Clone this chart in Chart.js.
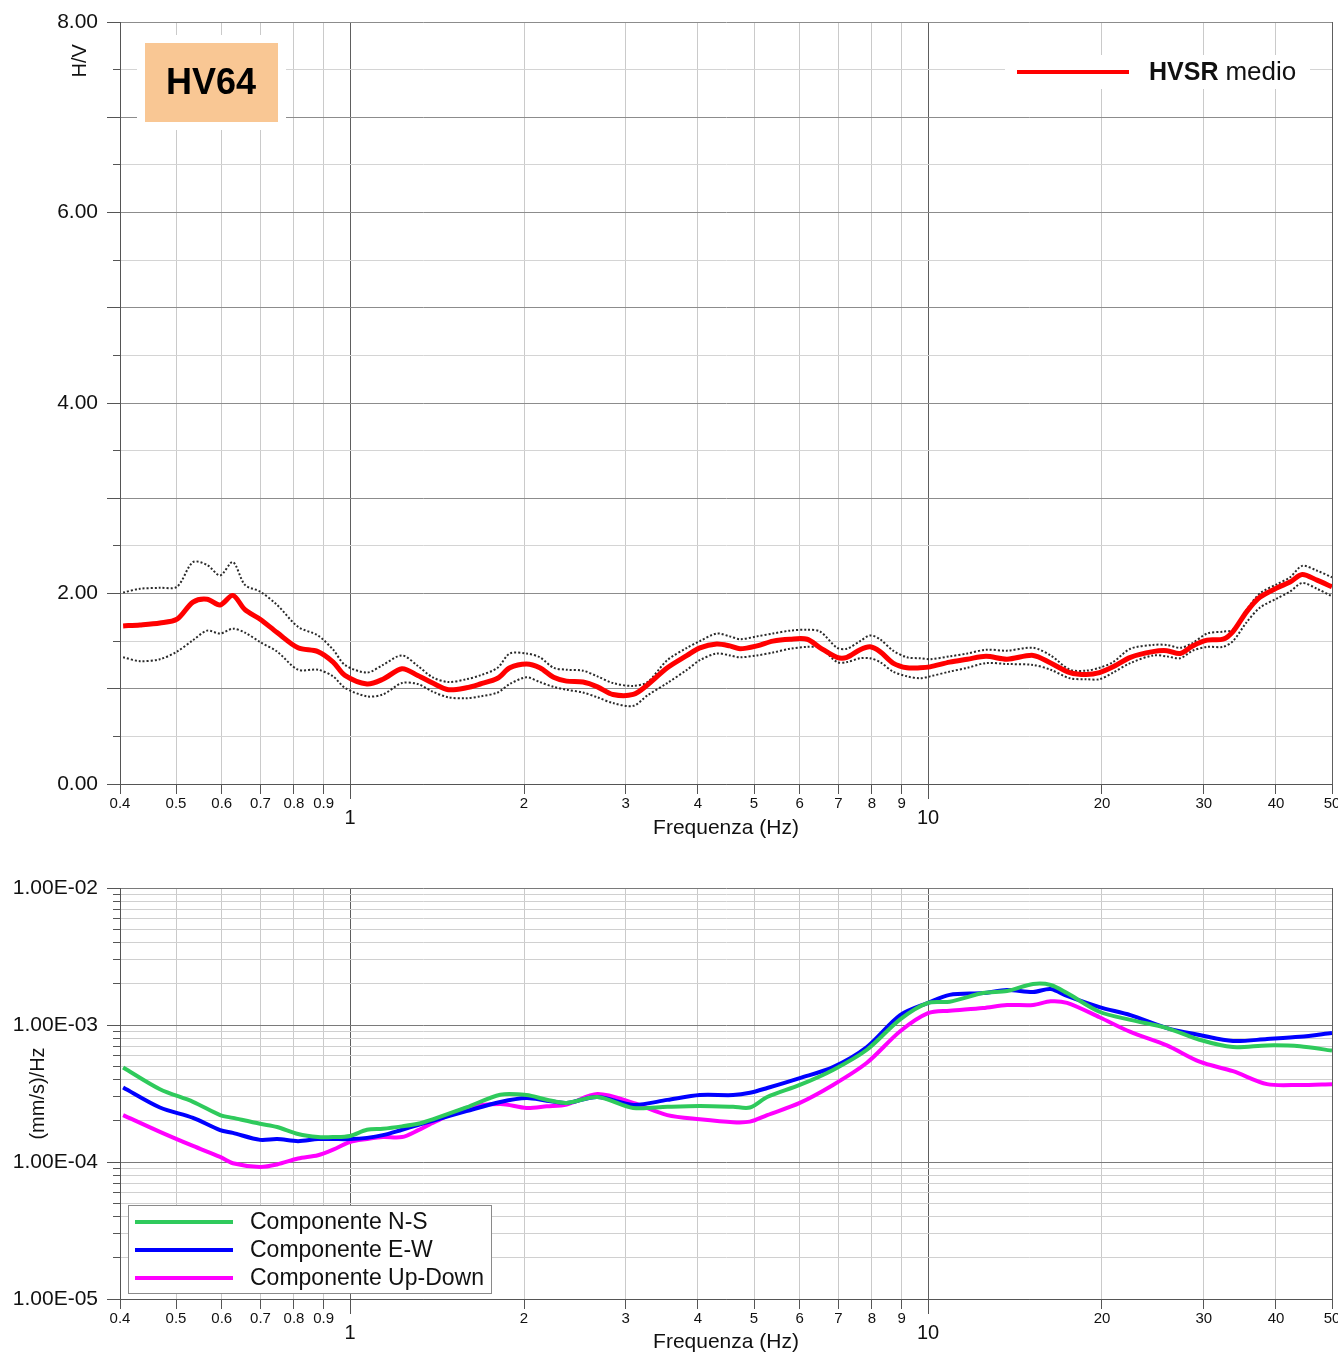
<!DOCTYPE html>
<html lang="it">
<head>
<meta charset="utf-8">
<title>HV64</title>
<script src="https://cdn.jsdelivr.net/npm/chart.js@4.4.8/dist/chart.umd.min.js"></script>
<style>
  html, body { margin: 0; padding: 0; background: #fff; overflow: hidden; }
  #hvChart { position: absolute; left: 0; top: 0; }
  #specChart { position: absolute; left: 0; top: 856px; }
</style>
</head>
<body>
<canvas id="hvChart" width="1360" height="850"></canvas>
<canvas id="specChart" width="1360" height="500"></canvas>
<script>
// --- dati ---
const stationName = 'HV64';

// curva H/V (frequenza in Hz)
const hvFreq = [0.405,0.433,0.469,0.502,0.535,0.566,0.596,0.627,0.658,0.699,
  0.748,0.813,0.880,0.935,0.980,1.07,1.14,1.23,1.31,1.39,
  1.48,1.59,1.68,1.80,1.89,2.02,2.13,2.25,2.37,2.53,
  2.68,2.85,3.09,3.27,3.54,3.83,4.03,4.31,4.54,4.73,
  5.06,5.39,5.77,6.18,6.51,6.96,7.24,7.63,7.94,8.26,
  8.70,9.20,9.69,10.08,10.9,11.7,12.6,13.7,15.2,16.3,
  17.6,18.8,19.8,20.9,22.4,24.5,25.9,27.3,28.7,30.4,
  32.4,33.7,35.6,37.5,40.2,42.3,44.4,47.1,50.0];
const hvMean = [1.66,1.67,1.69,1.73,1.91,1.94,1.88,1.98,1.83,1.73,
  1.59,1.43,1.39,1.28,1.14,1.05,1.10,1.21,1.14,1.06,
  0.99,1.01,1.05,1.11,1.22,1.26,1.22,1.12,1.08,1.07,
  1.02,0.94,0.94,1.04,1.22,1.35,1.43,1.47,1.45,1.42,
  1.45,1.50,1.52,1.52,1.43,1.33,1.33,1.41,1.44,1.39,
  1.27,1.22,1.22,1.23,1.28,1.31,1.34,1.31,1.35,1.27,
  1.17,1.15,1.17,1.23,1.33,1.39,1.40,1.37,1.45,1.51,
  1.52,1.60,1.81,1.96,2.06,2.12,2.20,2.14,2.07];
const hvUpper = [2.01,2.05,2.06,2.07,2.33,2.30,2.19,2.33,2.09,2.02,
  1.88,1.65,1.56,1.41,1.25,1.17,1.25,1.35,1.24,1.12,
  1.07,1.10,1.14,1.22,1.37,1.37,1.33,1.22,1.20,1.19,
  1.13,1.06,1.03,1.07,1.30,1.43,1.50,1.58,1.55,1.52,
  1.55,1.58,1.61,1.62,1.60,1.43,1.42,1.50,1.56,1.52,
  1.40,1.33,1.32,1.31,1.34,1.37,1.41,1.40,1.43,1.35,
  1.20,1.19,1.22,1.28,1.42,1.46,1.46,1.43,1.48,1.58,
  1.60,1.62,1.83,2.00,2.10,2.17,2.29,2.24,2.17];
const hvLower = [1.33,1.29,1.31,1.39,1.51,1.61,1.58,1.63,1.59,1.49,
  1.39,1.20,1.20,1.13,1.01,0.92,0.94,1.06,1.05,0.97,
  0.91,0.90,0.92,0.96,1.05,1.12,1.07,1.02,0.99,0.96,
  0.91,0.85,0.82,0.93,1.06,1.20,1.30,1.37,1.35,1.33,
  1.35,1.38,1.42,1.44,1.43,1.28,1.28,1.32,1.32,1.28,
  1.18,1.13,1.11,1.13,1.18,1.22,1.27,1.26,1.25,1.20,
  1.11,1.10,1.10,1.17,1.27,1.35,1.34,1.32,1.40,1.44,
  1.44,1.50,1.70,1.85,1.95,2.02,2.11,2.05,1.97];

// spettri delle componenti, (mm/s)/Hz
const specFreq = [0.405,0.469,0.535,0.596,0.627,0.699,0.748,0.813,0.880,0.935,
  1.00,1.07,1.14,1.23,1.31,1.39,1.59,1.82,2.02,2.19,
  2.37,2.68,3.09,3.54,4.03,4.60,4.92,5.27,6.00,6.85,
  7.84,8.95,10.0,10.9,12.45,13.7,15.2,16.3,17.4,19.8,
  22.4,25.9,29.5,33.7,38.6,44.0,50.0];
const specNS = [4.9e-4,3.4e-4,2.75e-4,2.2e-4,2.1e-4,1.9e-4,1.8e-4,1.6e-4,1.52e-4,1.52e-4,
  1.55e-4,1.72e-4,1.75e-4,1.82e-4,1.9e-4,2.05e-4,2.5e-4,3.1e-4,3.08e-4,2.85e-4,
  2.7e-4,2.98e-4,2.48e-4,2.53e-4,2.56e-4,2.53e-4,2.5e-4,2.98e-4,3.65e-4,4.7e-4,
  6.6e-4,1.1e-3,1.45e-3,1.48e-3,1.71e-3,1.77e-3,1.99e-3,1.96e-3,1.71e-3,1.25e-3,
  1.09e-3,9.5e-4,7.8e-4,6.9e-4,7.1e-4,7.0e-4,6.5e-4];
const specEW = [3.5e-4,2.5e-4,2.1e-4,1.71e-4,1.63e-4,1.45e-4,1.47e-4,1.42e-4,1.47e-4,1.47e-4,
  1.47e-4,1.5e-4,1.57e-4,1.72e-4,1.86e-4,2.0e-4,2.35e-4,2.74e-4,2.93e-4,2.8e-4,
  2.7e-4,2.98e-4,2.61e-4,2.84e-4,3.08e-4,3.08e-4,3.2e-4,3.47e-4,4.1e-4,4.93e-4,
  6.9e-4,1.18e-3,1.45e-3,1.66e-3,1.71e-3,1.8e-3,1.74e-3,1.83e-3,1.63e-3,1.35e-3,
  1.18e-3,9.5e-4,8.45e-4,7.64e-4,7.9e-4,8.2e-4,8.75e-4];
const specUD = [2.2e-4,1.66e-4,1.31e-4,1.09e-4,9.8e-5,9.2e-5,9.6e-5,1.06e-4,1.12e-4,1.23e-4,
  1.40e-4,1.47e-4,1.52e-4,1.52e-4,1.7e-4,1.93e-4,2.48e-4,2.65e-4,2.48e-4,2.55e-4,
  2.63e-4,3.13e-4,2.7e-4,2.2e-4,2.05e-4,1.95e-4,1.97e-4,2.2e-4,2.7e-4,3.65e-4,
  5.3e-4,9.0e-4,1.22e-3,1.27e-3,1.33e-3,1.40e-3,1.40e-3,1.49e-3,1.45e-3,1.14e-3,
  8.9e-4,7.1e-4,5.4e-4,4.6e-4,3.7e-4,3.65e-4,3.7e-4];

// assi
const freqTicks = [0.4,0.5,0.6,0.7,0.8,0.9,1,2,3,4,5,6,7,8,9,10,20,30,40,50];
const freqLabels = ['0.4','0.5','0.6','0.7','0.8','0.9','1','2','3','4','5','6','7','8','9','10','20','30','40','50'];
const freqMajor = [1, 10];
const freqEdges = [0.4, 50];
const hvTicks = [0,0.5,1,1.5,2,2.5,3,3.5,4,4.5,5,5.5,6,6.5,7,7.5,8];
const hvMajor = [0,1,2,3,4,5,6,7,8];
const hvLabelValues = [0,2,4,6,8];
const hvLabelText = ['0.00','2.00','4.00','6.00','8.00'];
const specTicks = [1e-5,2e-5,3e-5,4e-5,5e-5,6e-5,7e-5,8e-5,9e-5,
  1e-4,2e-4,3e-4,4e-4,5e-4,6e-4,7e-4,8e-4,9e-4,
  1e-3,2e-3,3e-3,4e-3,5e-3,6e-3,7e-3,8e-3,9e-3,1e-2];
const specLabelValues = [1e-5,1e-4,1e-3,1e-2];
const specLabelText = ['1.00E-05','1.00E-04','1.00E-03','1.00E-02'];

const FONT = "'Liberation Sans', Arial, Helvetica, sans-serif";
Chart.defaults.font.family = FONT;
Chart.defaults.color = '#111';

function near(a, b) { return Math.abs(a - b) <= Math.abs(b) * 1e-6 + 1e-12; }
function idxOf(list, v) { return list.findIndex(t => near(v, t)); }
function tickVal(c) { return c && c.tick ? c.tick.value : NaN; }
function points(xs, ys) { return xs.map((x, i) => ({x: x, y: ys[i]})); }

// tacche lunghe sui valori principali
const extraTicks = {
  id: 'extraTicks',
  afterDraw(chart, args, opts) {
    const ctx = chart.ctx, xs = chart.scales.x, ys = chart.scales.y;
    ctx.save();
    ctx.strokeStyle = '#555';
    ctx.lineWidth = 1;
    ctx.beginPath();
    opts.xValues.forEach(v => {
      const px = Math.round(xs.getPixelForValue(v) - 0.5) + 0.5;
      ctx.moveTo(px, xs.top);
      ctx.lineTo(px, xs.top + opts.xLength);
    });
    opts.yValues.forEach(v => {
      const py = Math.round(ys.getPixelForValue(v) - 0.5) + 0.5;
      ctx.moveTo(ys.right - opts.yLength, py);
      ctx.lineTo(ys.right, py);
    });
    ctx.stroke();
    ctx.restore();
  }
};

// etichetta stazione e legenda del grafico H/V
const hvDecor = {
  id: 'hvDecor',
  afterDraw(chart) {
    const ctx = chart.ctx, ca = chart.chartArea;
    ctx.save();
    ctx.fillStyle = '#fff';
    ctx.fillRect(ca.left + 17, ca.top + 13, 149, 95);
    ctx.fillStyle = '#f9c794';
    ctx.fillRect(ca.left + 25, ca.top + 21, 133, 79);
    ctx.fillStyle = '#000';
    ctx.font = 'bold 36px ' + FONT;
    ctx.textAlign = 'center';
    ctx.textBaseline = 'middle';
    ctx.fillText(stationName, ca.left + 91, ca.top + 62);

    const ds = chart.data.datasets[0];
    ctx.fillStyle = '#fff';
    ctx.fillRect(1005, 55, 305, 34);
    ctx.strokeStyle = ds.borderColor;
    ctx.lineWidth = 4;
    ctx.beginPath();
    ctx.moveTo(1017, 72);
    ctx.lineTo(1129, 72);
    ctx.stroke();
    ctx.textAlign = 'left';
    ctx.fillStyle = '#111';
    const parts = ds.label.split(' ');
    ctx.font = 'bold 25px ' + FONT;
    ctx.fillText(parts[0], 1149, 73);
    const w = ctx.measureText(parts[0] + ' ').width;
    ctx.font = '26px ' + FONT;
    ctx.fillText(parts.slice(1).join(' '), 1149 + w, 73);
    ctx.restore();
  }
};

// legenda delle componenti
const specLegend = {
  id: 'specLegend',
  afterDraw(chart) {
    const ctx = chart.ctx, ca = chart.chartArea;
    const bx = ca.left + 8, by = ca.bottom - 94;
    ctx.save();
    ctx.fillStyle = '#fff';
    ctx.fillRect(bx, by, 364, 89);
    ctx.strokeStyle = '#8a8a8a';
    ctx.lineWidth = 1;
    ctx.strokeRect(bx + 0.5, by + 0.5, 363, 88);
    ctx.font = '23px ' + FONT;
    ctx.textBaseline = 'middle';
    ctx.textAlign = 'left';
    chart.data.datasets.forEach((ds, i) => {
      const yy = by + 17 + i * 28;
      ctx.strokeStyle = ds.borderColor;
      ctx.lineWidth = 4;
      ctx.beginPath();
      ctx.moveTo(bx + 7, yy);
      ctx.lineTo(bx + 105, yy);
      ctx.stroke();
      ctx.fillStyle = '#111';
      ctx.fillText(ds.label, bx + 122, yy + 1);
    });
    ctx.restore();
  }
};

function fixLeftAxis(s) {
  s.width = 120;
  s.paddingTop = 0;
  s.paddingBottom = 0;
}

function freqAxis(axisHeight, titlePad) {
  return {
    type: 'logarithmic',
    min: 0.4,
    max: 50,
    afterBuildTicks: s => { s.ticks = freqTicks.map(v => ({value: v})); },
    afterFit: s => { s.height = axisHeight; },
    ticks: {
      autoSkip: false,
      maxRotation: 0,
      minRotation: 0,
      padding: 1,
      color: '#111',
      font: c => idxOf(freqMajor, tickVal(c)) >= 0 ? {size: 20, lineHeight: 0.78} : {size: 15},
      callback: v => {
        const t = freqLabels[idxOf(freqTicks, v)];
        return idxOf(freqMajor, v) >= 0 ? ['', t] : t;
      }
    },
    grid: {
      color: c => (idxOf(freqMajor, tickVal(c)) >= 0 || idxOf(freqEdges, tickVal(c)) >= 0) ? '#5e5e5e' : '#cacaca',
      tickColor: '#555',
      tickLength: 10
    },
    border: { color: '#555' },
    title: {
      display: true,
      text: 'Frequenza (Hz)',
      color: '#111',
      font: {size: 21},
      padding: {top: 0, bottom: titlePad}
    }
  };
}

new Chart(document.getElementById('hvChart'), {
  type: 'line',
  data: {
    datasets: [
      { label: 'HVSR medio', data: points(hvFreq, hvMean), borderColor: '#ff0000', borderWidth: 5,
        pointRadius: 0, tension: 0.3 },
      { label: 'max', data: points(hvFreq, hvUpper), borderColor: '#2a2a2a', borderWidth: 2,
        borderDash: [2, 2], pointRadius: 0, tension: 0.3 },
      { label: 'min', data: points(hvFreq, hvLower), borderColor: '#2a2a2a', borderWidth: 2,
        borderDash: [2, 2], pointRadius: 0, tension: 0.3 }
    ]
  },
  plugins: [extraTicks, hvDecor],
  options: {
    responsive: false,
    animation: false,
    events: [],
    layout: { padding: {top: 22, right: 28, left: 0, bottom: 0} },
    plugins: {
      legend: { display: false },
      tooltip: { enabled: false },
      extraTicks: { xValues: freqMajor, xLength: 15, yValues: hvMajor, yLength: 13 }
    },
    scales: {
      x: freqAxis(66, 9),
      y: {
        min: 0,
        max: 8,
        afterBuildTicks: s => { s.ticks = hvTicks.map(v => ({value: v})); },
        afterFit: fixLeftAxis,
        ticks: {
          autoSkip: false,
          padding: 15,
          color: '#111',
          font: {size: 21},
          callback: v => { const i = idxOf(hvLabelValues, v); return i >= 0 ? hvLabelText[i] : ''; }
        },
        grid: {
          color: c => idxOf(hvMajor, tickVal(c)) >= 0 ? '#8c8c8c' : '#d4d4d4',
          tickColor: '#555',
          tickLength: 7
        },
        border: { color: '#555' },
        title: {
          display: true,
          text: 'H/V    ',
          align: 'end',
          color: '#111',
          font: {size: 20},
          padding: {top: 68, bottom: 0}
        }
      }
    }
  }
});

new Chart(document.getElementById('specChart'), {
  type: 'line',
  data: {
    datasets: [
      { label: 'Componente N-S', data: points(specFreq, specNS), borderColor: '#2fca5c', borderWidth: 4,
        pointRadius: 0, tension: 0.3 },
      { label: 'Componente E-W', data: points(specFreq, specEW), borderColor: '#0000ff', borderWidth: 4,
        pointRadius: 0, tension: 0.3 },
      { label: 'Componente Up-Down', data: points(specFreq, specUD), borderColor: '#ff00ff', borderWidth: 4,
        pointRadius: 0, tension: 0.3 }
    ]
  },
  plugins: [extraTicks, specLegend],
  options: {
    responsive: false,
    animation: false,
    events: [],
    layout: { padding: {top: 32, right: 28, left: 0, bottom: 0} },
    plugins: {
      legend: { display: false },
      tooltip: { enabled: false },
      extraTicks: { xValues: freqMajor, xLength: 15, yValues: specLabelValues, yLength: 13 }
    },
    scales: {
      x: freqAxis(57, 1),
      y: {
        type: 'logarithmic',
        min: 1e-5,
        max: 1e-2,
        afterBuildTicks: s => { s.ticks = specTicks.map(v => ({value: v})); },
        afterFit: fixLeftAxis,
        ticks: {
          autoSkip: false,
          padding: 15,
          color: '#111',
          font: {size: 21},
          callback: v => { const i = idxOf(specLabelValues, v); return i >= 0 ? specLabelText[i] : ''; }
        },
        grid: {
          color: c => idxOf(specLabelValues, tickVal(c)) >= 0 ? '#7a7a7a' : '#d0d0d0',
          tickColor: '#555',
          tickLength: 7
        },
        border: { color: '#555' },
        title: {
          display: true,
          text: '(mm/s)/Hz',
          color: '#111',
          font: {size: 20},
          padding: {top: 26, bottom: 0}
        }
      }
    }
  }
});
</script>
</body>
</html>
